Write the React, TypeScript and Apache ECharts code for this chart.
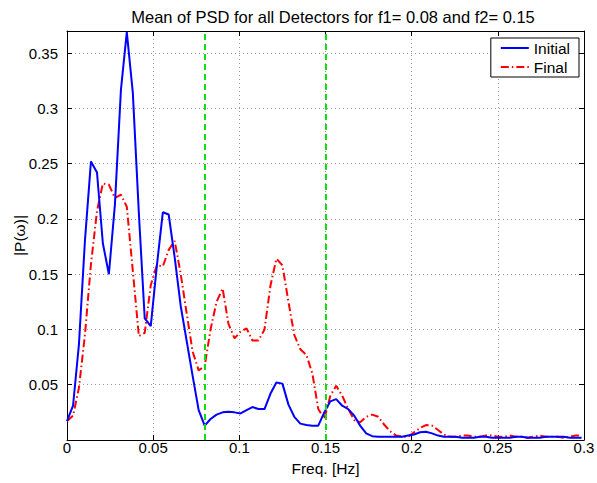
import React, { useEffect, useRef } from "react";
import * as echarts from "echarts";

const freqs = [
  0, 0.0035, 0.0069, 0.0104, 0.0139, 0.0174, 0.0208, 0.0243, 0.0278, 0.0313,
  0.0347, 0.0382, 0.0417, 0.0451, 0.0486, 0.0521, 0.0556, 0.059, 0.0625, 0.066,
  0.0694, 0.0729, 0.0764, 0.0799, 0.0833, 0.0868, 0.0903, 0.0937, 0.0972, 0.1007,
  0.1042, 0.1076, 0.1111, 0.1146, 0.1181, 0.1215, 0.125, 0.1285, 0.1319, 0.1354,
  0.1389, 0.1424, 0.1458, 0.1493, 0.1528, 0.1562, 0.1597, 0.1632, 0.1667, 0.1701,
  0.1736, 0.1771, 0.1806, 0.184, 0.1875, 0.191, 0.1944, 0.1979, 0.2014, 0.2049,
  0.2083, 0.2118, 0.2153, 0.2187, 0.2222, 0.2257, 0.2292, 0.2326, 0.2361, 0.2396,
  0.2431, 0.2465, 0.25, 0.2535, 0.2569, 0.2604, 0.2639, 0.2674, 0.2708, 0.2743,
  0.2778, 0.2812, 0.2847, 0.2882, 0.2917, 0.2951, 0.2986,
];

const initialPsd = [
  0.017, 0.031, 0.086, 0.18, 0.252, 0.242, 0.178, 0.15, 0.213, 0.317,
  0.369, 0.314, 0.205, 0.11, 0.103, 0.157, 0.206, 0.204, 0.165, 0.121,
  0.09, 0.058, 0.027, 0.013, 0.019, 0.023, 0.025, 0.0256, 0.025, 0.024,
  0.027, 0.0298, 0.028, 0.028, 0.042, 0.052, 0.051, 0.032, 0.021, 0.0148,
  0.0135, 0.013, 0.013, 0.025, 0.035, 0.037, 0.031, 0.028, 0.022, 0.013,
  0.006, 0.0035, 0.003, 0.003, 0.003, 0.003, 0.003, 0.004, 0.005, 0.007,
  0.0075, 0.006, 0.004, 0.003, 0.003, 0.003, 0.002, 0.002, 0.002, 0.003,
  0.003, 0.002, 0.002, 0.002, 0.002, 0.003, 0.003, 0.002, 0.002, 0.002,
  0.003, 0.003, 0.003, 0.003, 0.002, 0.002, 0.002,
];

const finalPsd = [
  0.017, 0.022, 0.047, 0.095, 0.159, 0.207, 0.232, 0.231, 0.219, 0.222,
  0.211, 0.153, 0.094, 0.097, 0.14, 0.158, 0.157, 0.172, 0.18, 0.15,
  0.115, 0.08, 0.063, 0.067, 0.1, 0.125, 0.137, 0.105, 0.092, 0.098,
  0.101, 0.09, 0.09, 0.1, 0.14, 0.164, 0.158, 0.125, 0.095, 0.082,
  0.077, 0.06, 0.028, 0.019, 0.04, 0.049, 0.04, 0.028, 0.018, 0.016,
  0.021, 0.023, 0.021, 0.014, 0.008, 0.004, 0.003, 0.003, 0.007, 0.011,
  0.0135, 0.013, 0.009, 0.005, 0.003, 0.003, 0.004, 0.004, 0.003, 0.003,
  0.004, 0.004, 0.003, 0.003, 0.004, 0.003, 0.003, 0.002, 0.003, 0.004,
  0.003, 0.003, 0.003, 0.002, 0.003, 0.004, 0.004,
];

const cutoffFreqs = [0.08, 0.15];
const seriesNames = ["Initial", "Final"];

const FONT = "'Liberation Sans', Arial, Helvetica, sans-serif";

export default function App() {
  const ref = useRef<HTMLDivElement>(null);

  useEffect(() => {
    if (!ref.current) return;
    const chart = echarts.init(ref.current, undefined, { renderer: "svg" });
    const fmt = (v: number) => String(+Number(v).toFixed(3));
    const tickCommon = { show: true, inside: true, length: 5, lineStyle: { color: "#000" } };
    chart.setOption({
      animation: false,
      backgroundColor: "#fff",
      textStyle: { fontFamily: FONT },
      title: {
        text: "Mean of PSD for all Detectors for f1= 0.08 and f2= 0.15",
        left: 328,
        textAlign: "center",
        top: 3,
        textStyle: { fontSize: 16.5, fontWeight: "normal", color: "#000", fontFamily: FONT },
      },
      legend: {
        orient: "vertical",
        right: 18,
        top: 38,
        padding: [2, 9, 2, 9],
        itemGap: 3,
        itemWidth: 28,
        itemHeight: 16,
        borderColor: "#000",
        borderWidth: 1,
        backgroundColor: "#fff",
        itemStyle: { opacity: 0 },
        textStyle: { fontSize: 15.5, color: "#000", fontFamily: FONT },
        data: seriesNames,
      },
      grid: { left: 67, right: 13, top: 31, bottom: 43, containLabel: false, outerBoundsMode: "none" },
      xAxis: [
        {
          type: "value",
          min: 0,
          max: 0.3,
          interval: 0.05,
          name: "Freq. [Hz]",
          nameLocation: "middle",
          nameGap: 20,
          nameMoveOverlap: false,
          nameTextStyle: { fontSize: 15.5, color: "#000", fontFamily: FONT },
          axisLine: { show: true, onZero: false, lineStyle: { color: "#000", width: 1 } },
          axisTick: tickCommon,
          axisLabel: { fontSize: 15, color: "#000", margin: 0, formatter: fmt, fontFamily: FONT },
          splitLine: { show: true, lineStyle: { color: "#999", type: [1, 3], width: 1 } },
        },
        {
          type: "value",
          position: "top",
          min: 0,
          max: 0.3,
          interval: 0.05,
          axisLine: { show: true, onZero: false, lineStyle: { color: "#000", width: 1 } },
          axisTick: tickCommon,
          axisLabel: { show: false },
          splitLine: { show: false },
        },
      ],
      yAxis: [
        {
          type: "value",
          min: 0,
          max: 0.37,
          interval: 0.05,
          name: "|P(ω)|",
          nameLocation: "middle",
          nameGap: 40,
          nameMoveOverlap: false,
          nameTextStyle: { fontSize: 15.5, color: "#000", fontFamily: FONT },
          axisLine: { show: true, onZero: false, lineStyle: { color: "#000", width: 1 } },
          axisTick: tickCommon,
          axisLabel: {
            fontSize: 15,
            color: "#000",
            margin: 9,
            formatter: fmt,
            showMinLabel: false,
            showMaxLabel: false,
            fontFamily: FONT,
          },
          splitLine: { show: true, lineStyle: { color: "#999", type: [1, 3], width: 1 } },
        },
        {
          type: "value",
          position: "right",
          min: 0,
          max: 0.37,
          interval: 0.05,
          axisLine: { show: true, onZero: false, lineStyle: { color: "#000", width: 1 } },
          axisTick: tickCommon,
          axisLabel: { show: false },
          splitLine: { show: false },
        },
      ],
      series: [
        {
          name: seriesNames[0],
          type: "line",
          symbol: "none",
          xAxisIndex: 0,
          yAxisIndex: 0,
          data: freqs.map((f, i) => [f, initialPsd[i]]),
          lineStyle: { color: "#0000ff", width: 2 },
          itemStyle: { color: "#0000ff" },
          z: 3,
        },
        {
          name: seriesNames[1],
          type: "line",
          symbol: "none",
          xAxisIndex: 0,
          yAxisIndex: 0,
          data: freqs.map((f, i) => [f, finalPsd[i]]),
          lineStyle: { color: "#ff0000", width: 2, type: [8, 3, 1.5, 3] },
          itemStyle: { color: "#ff0000" },
          z: 2,
          markLine: {
            silent: true,
            symbol: ["none", "none"],
            label: { show: false },
            lineStyle: { color: "#11dd11", type: [6, 4], width: 2 },
            data: cutoffFreqs.map((f) => ({ xAxis: f })),
            z: 4,
          },
        },
      ],
    });
    return () => chart.dispose();
  }, []);

  return (
    <div
      ref={ref}
      style={{ position: "fixed", left: 0, top: 0, width: 597, height: 483 }}
    />
  );
}
